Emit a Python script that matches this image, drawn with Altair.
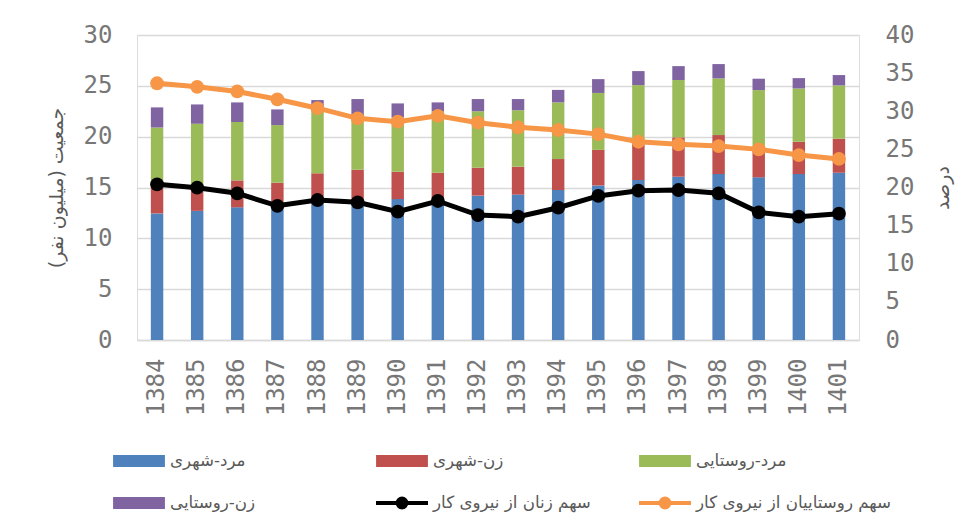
import altair as alt
import pandas as pd

years = ["1384", "1385", "1386", "1387", "1388", "1389", "1390", "1391", "1392",
         "1393", "1394", "1395", "1396", "1397", "1398", "1399", "1400", "1401"]

bar_series = ["مرد-شهری", "زن-شهری", "مرد-روستایی", "زن-روستایی"]
line_series = ["سهم زنان از نیروی کار", "سهم روستاییان از نیروی کار"]
all_series = bar_series + line_series

# population (million persons), stacked segments
urban_men = [12.45, 12.7, 13.05, 13.3, 13.9, 13.8, 13.86, 13.8, 14.2,
             14.3, 14.75, 15.2, 15.73, 16.06, 16.32, 16.0, 16.32, 16.45]
urban_women = [2.85, 2.4, 2.65, 2.17, 2.5, 2.95, 2.69, 2.65, 2.75,
               2.75, 3.05, 3.5, 3.77, 3.87, 3.84, 3.1, 3.18, 3.35]
rural_men = [5.6, 6.17, 5.74, 5.67, 6.2, 5.25, 5.35, 6.05, 5.55,
             5.55, 5.57, 5.6, 5.57, 5.64, 5.57, 5.48, 5.24, 5.24]
rural_women = [1.98, 1.9, 1.93, 1.54, 1.0, 1.7, 1.37, 0.87, 1.2,
               1.1, 1.23, 1.36, 1.38, 1.37, 1.41, 1.12, 1.02, 1.02]

# shares of labour force (percent)
women_share = [20.42, 19.98, 19.24, 17.6, 18.36, 18.06, 16.83, 18.23, 16.39,
               16.17, 17.35, 18.89, 19.58, 19.67, 19.24, 16.75, 16.17, 16.57]
rural_share = [33.67, 33.2, 32.6, 31.57, 30.4, 29.07, 28.63, 29.4, 28.5,
               27.9, 27.54, 27.0, 26.0, 25.66, 25.44, 25.0, 24.26, 23.74]

colors = ["#4F81BD", "#C0504D", "#9BBB59", "#8064A2", "#000000", "#F79646"]

rect_path = "M-0.92,-0.15H0.92V0.15H-0.92Z"
line_path = "M-1,0H1M0.17,0A0.17,0.17,0,1,1,-0.17,0A0.17,0.17,0,1,1,0.17,0"
shapes = [rect_path] * 4 + [line_path] * 2

rows = []
for i, y in enumerate(years):
    for k, vals in enumerate([urban_men, urban_women, rural_men, rural_women]):
        rows.append({"year": y, "series": bar_series[k], "value": vals[i], "ord": k})
bar_df = pd.DataFrame(rows)

lrows = []
for i, y in enumerate(years):
    for k, vals in enumerate([women_share, rural_share]):
        lrows.append({"year": y, "series": line_series[k], "value": vals[i]})
line_df = pd.DataFrame(lrows)

tick_font = "DejaVu Sans Mono"
ar_font = "DejaVu Sans"
grey = "#777777"
ar_grey = "#595959"

color_scale = alt.Scale(domain=all_series, range=colors)
legend = alt.Legend(
    title=None, orient="none", legendX=-26, legendY=416, columns=3,
    gridAlign="all", columnPadding=8, rowPadding=22, clipHeight=20,
    symbolSize=2704, symbolStrokeWidth=4, labelFont=ar_font, labelFontSize=16.7,
    labelColor=ar_grey, labelOffset=3, padding=0, direction="horizontal",
    labelLimit=400,
)

x_enc = alt.X(
    "year:N", sort=years,
    scale=alt.Scale(paddingInner=0.69, paddingOuter=0.345),
    axis=alt.Axis(title=None, labelAngle=270, labelFont=tick_font, labelFontSize=24,
                  labelColor=grey, ticks=False, labelPadding=18, labelOverlap=False,
                  domainColor="#D9D9D9", domainWidth=1.3, grid=False),
)

bars = alt.Chart(bar_df).mark_bar().encode(
    x=x_enc,
    y=alt.Y("value:Q", stack="zero",
            scale=alt.Scale(domain=[0, 30]),
            axis=alt.Axis(values=[0, 5, 10, 15, 20, 25, 30], title="جمعیت (میلیون نفر)\u200f",
                          labelFont=tick_font, labelFontSize=24, labelColor=grey,
                          ticks=False, domain=False, labelPadding=25, labelOverlap=False,
                          gridColor="#D9D9D9", gridWidth=1.3,
                          titleFont=ar_font, titleFontSize=19, titleColor=ar_grey,
                          titleFontWeight="normal", titleAngle=270,
                          titleX=-81, titleY=152.5, titleBaseline="middle",
                          titleAlign="center")),
    color=alt.Color("series:N", scale=color_scale, legend=legend),
    order=alt.Order("ord:Q"),
)

right_axis = alt.Axis(orient="right", values=[0, 5, 10, 15, 20, 25, 30, 35, 40],
                      title="درصد", labelFont=tick_font, labelFontSize=24,
                      labelColor=grey, ticks=False, domain=False, grid=False,
                      labelPadding=26, labelOverlap=False,
                      titleFont=ar_font, titleFontSize=19,
                      titleColor=ar_grey, titleFontWeight="normal", titleAngle=270,
                      titleX=83, titleY=152.5, titleBaseline="middle",
                      titleAlign="center")

lines = alt.Chart(line_df).mark_line(
    strokeWidth=5,
    point=alt.OverlayMarkDef(filled=True, size=190, strokeWidth=0),
).encode(
    x=alt.X("year:N", sort=years),
    y=alt.Y("value:Q", scale=alt.Scale(domain=[0, 40]), axis=right_axis),
    color=alt.Color("series:N", scale=color_scale, legend=legend),
)

ghost = alt.Chart(line_df).mark_point(opacity=0).encode(
    x=alt.X("year:N", sort=years),
    y=alt.Y("value:Q", scale=alt.Scale(domain=[0, 40]), axis=right_axis),
    shape=alt.Shape("series:N", scale=alt.Scale(domain=all_series, range=shapes), legend=legend),
)

right = alt.layer(lines, ghost)

chart = alt.layer(bars, right).resolve_scale(y="independent").properties(
    width=722, height=305,
    padding={"left": 129, "top": 27, "right": 110, "bottom": 182},
    autosize=alt.AutoSizeParams(type="none"),
).configure_view(stroke=None).configure(background="white")

chart.save("out.html", embed_options={"renderer": "svg", "actions": False})
